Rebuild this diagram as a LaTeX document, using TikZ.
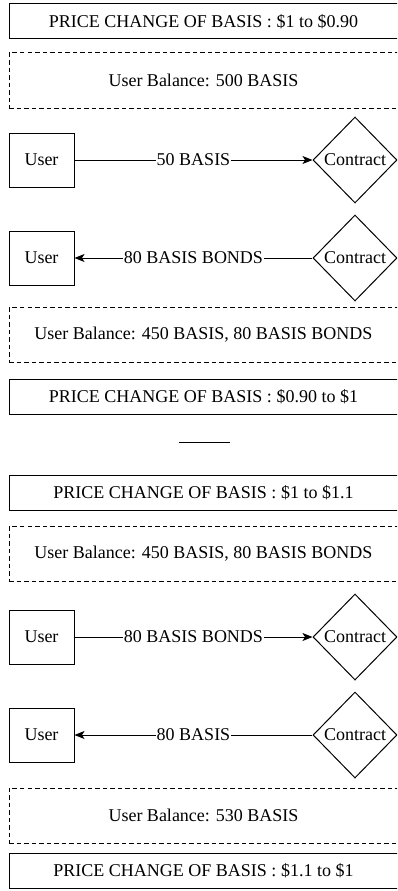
\documentclass[tikz,border=0pt]{standalone}
\usepackage{fontspec}
\setmainfont{Liberation Serif}
\usetikzlibrary{shapes.geometric,arrows.meta}

\begin{document}
\begin{tikzpicture}[x=1pt,y=-1pt,
  font=\fontsize{18}{22}\selectfont,
  pricebox/.style={draw, line width=1pt, minimum width=389pt, minimum height=35pt, inner sep=0pt},
  balbox/.style={draw, line width=1pt, dash pattern=on 4.5pt off 3pt, minimum width=389pt, minimum height=55pt, inner sep=0pt},
  userbox/.style={draw, line width=1pt, minimum width=65pt, minimum height=54pt, inner sep=0pt},
  contract/.style={draw, diamond, line width=1pt, minimum width=84pt, minimum height=86pt, inner sep=0pt},
  flow/.style={line width=1pt, -{Stealth[length=10pt,width=8pt,inset=2.5pt]}},
  amount/.style={fill=white, inner sep=1pt}]
\useasboundingbox (0,0) rectangle (397,891);
\clip (0,0) rectangle (397,891);

% Part 1: price drops
\node[pricebox] (p1) at (203.5,21.5) {PRICE CHANGE OF BASIS : \$1 to \$0.90};
\node[balbox] (b1) at (203.5,80.5) {User Balance: 500 BASIS};

\node[userbox] (u1) at (41.5,160) {User};
\node[contract] (c1) at (355,160) {Contract};
\draw[flow] (u1) -- node[amount] {50 BASIS} (c1);

\node[userbox] (u2) at (41.5,258) {User};
\node[contract] (c2) at (355,258) {Contract};
\draw[flow] (c2) -- node[amount] {80 BASIS BONDS} (u2);

\node[balbox] (b2) at (203.5,335) {User Balance: 450 BASIS, 80 BASIS BONDS};
\node[pricebox] (p2) at (203.5,396.5) {PRICE CHANGE OF BASIS : \$0.90 to \$1};

% separator
\coordinate (sepl) at (179,442);
\coordinate (sepr) at (230,442);
\draw[line width=1pt] (sepl) -- (sepr);

% Part 2: price rises
\node[pricebox] (p3) at (203.5,492.5) {PRICE CHANGE OF BASIS : \$1 to \$1.1};
\node[balbox] (b3) at (203.5,554) {User Balance: 450 BASIS, 80 BASIS BONDS};

\node[userbox] (u3) at (41.5,637) {User};
\node[contract] (c3) at (355,637) {Contract};
\draw[flow] (u3) -- node[amount] {80 BASIS BONDS} (c3);

\node[userbox] (u4) at (41.5,735) {User};
\node[contract] (c4) at (355,735) {Contract};
\draw[flow] (c4) -- node[amount] {80 BASIS} (u4);

\node[balbox] (b4) at (203.5,815.5) {User Balance: 530 BASIS};
\node[pricebox] (p4) at (203.5,870.5) {PRICE CHANGE OF BASIS : \$1.1 to \$1};
\end{tikzpicture}
\end{document}
